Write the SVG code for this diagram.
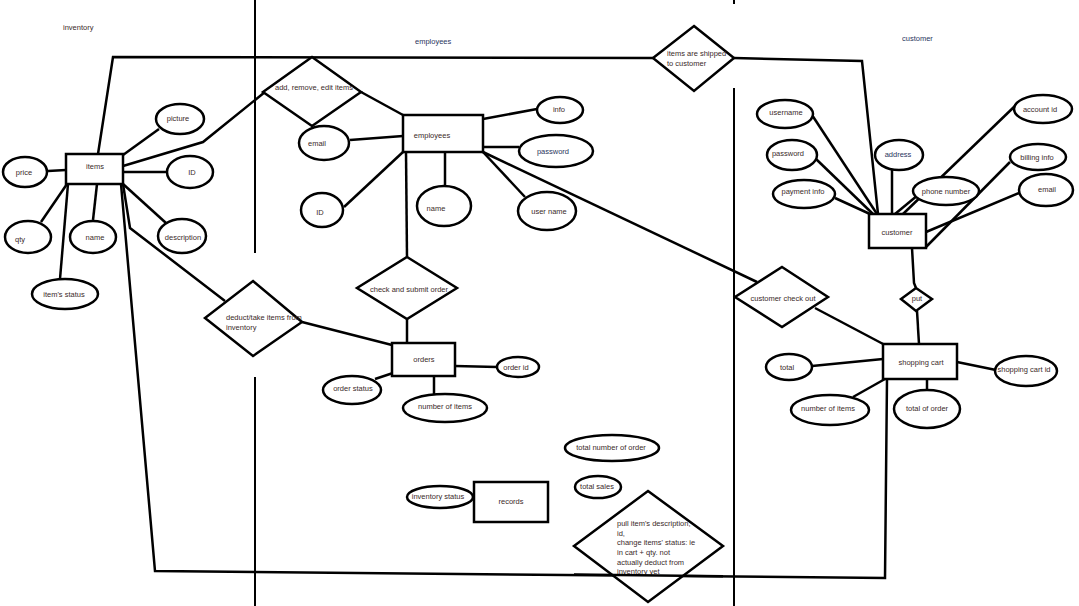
<svg xmlns="http://www.w3.org/2000/svg" width="1079" height="606" viewBox="0 0 1079 606">
<style>
.s{fill:#fff;stroke:#000;stroke-width:2.5}
.c{fill:none;stroke:#000;stroke-width:2.5;stroke-linejoin:miter}
.d{fill:none;stroke:#000;stroke-width:2}
text{font-family:"Liberation Sans",Arial,sans-serif;font-size:7.5px;fill:#3b2a2a;dominant-baseline:central}
.m{text-anchor:middle}
.b{fill:#2a3560}
</style>
<rect width="1079" height="606" fill="#fff"/>
<g id="dividers">
<path class="d" d="M255,0V253M255,377V606M734,0V4M734,88V606"/>
</g>
<g id="connectors">
<polyline class="c" points="98,154 113,57 653,58"/>
<polyline class="c" points="734,58 862,61 878,214"/>
<polyline class="c" points="121,184 155,571 885,578 887,379"/>
<polyline class="c" points="123,166 203,142 265,92"/>
<polyline class="c" points="123,184 130,228 225,301"/>
<line class="c" x1="302" y1="322" x2="392" y2="345"/>
<line class="c" x1="361" y1="92" x2="403" y2="115"/>
<line class="c" x1="406" y1="152" x2="407" y2="257"/>
<line class="c" x1="407" y1="319" x2="407" y2="343"/>
<line class="c" x1="483" y1="152" x2="757" y2="282"/>
<line class="c" x1="815" y1="308" x2="885" y2="345"/>
<polyline class="c" points="912,248 914,283 916,288"/>
<line class="c" x1="917" y1="311" x2="919" y2="344"/>
<!-- items attributes -->
<line class="c" x1="48" y1="171" x2="66" y2="170"/>
<line class="c" x1="123" y1="155" x2="159" y2="129"/>
<line class="c" x1="123" y1="172" x2="167" y2="172"/>
<line class="c" x1="41" y1="222" x2="67" y2="184"/>
<line class="c" x1="93" y1="220" x2="97" y2="184"/>
<line class="c" x1="123" y1="184" x2="166" y2="223"/>
<line class="c" x1="60" y1="279" x2="68" y2="184"/>
<!-- employees attributes -->
<line class="c" x1="350" y1="140" x2="403" y2="136"/>
<line class="c" x1="483" y1="119" x2="537" y2="109"/>
<line class="c" x1="483" y1="147" x2="519" y2="147"/>
<line class="c" x1="344" y1="207" x2="403" y2="152"/>
<line class="c" x1="445" y1="152" x2="445" y2="186"/>
<line class="c" x1="483" y1="152" x2="525" y2="197"/>
<!-- orders attributes -->
<line class="c" x1="455" y1="366" x2="497" y2="367"/>
<line class="c" x1="375" y1="379" x2="393" y2="373"/>
<line class="c" x1="434" y1="376" x2="434" y2="394"/>
<!-- customer attributes -->
<line class="c" x1="812" y1="115" x2="877" y2="214"/>
<line class="c" x1="816" y1="159" x2="873" y2="214"/>
<line class="c" x1="835" y1="198" x2="870" y2="214"/>
<line class="c" x1="892" y1="170" x2="892" y2="214"/>
<line class="c" x1="895" y1="214" x2="918" y2="195"/>
<line class="c" x1="903" y1="214" x2="1016" y2="105"/>
<line class="c" x1="1010" y1="162" x2="926" y2="247"/>
<line class="c" x1="1019" y1="193" x2="926" y2="232"/>
<!-- cart attributes -->
<line class="c" x1="812" y1="366" x2="883" y2="359"/>
<line class="c" x1="957" y1="362" x2="996" y2="370"/>
<line class="c" x1="853" y1="397" x2="885" y2="379"/>
<line class="c" x1="927" y1="379" x2="927" y2="390"/>
</g>
<g id="label-inventory"><text x="63" y="27">inventory</text></g>
<g id="label-employees"><text x="415" y="41" class="b">employees</text></g>
<g id="label-customer"><text x="902" y="38" class="b">customer</text></g>
<g id="items"><rect class="s" x="66" y="154" width="57" height="30"/><text class="m" x="95" y="166">items</text></g>
<g id="price"><ellipse class="s" cx="25" cy="172" rx="22" ry="15"/><text class="m" x="24" y="172">price</text></g>
<g id="picture"><ellipse class="s" cx="180" cy="119" rx="24" ry="15"/><text class="m" x="178" y="118">picture</text></g>
<g id="items-id"><ellipse class="s" cx="190" cy="172" rx="23" ry="16"/><text class="m" x="192" y="172">ID</text></g>
<g id="qty"><ellipse class="s" cx="28" cy="237" rx="23" ry="16"/><text class="m" x="20" y="239">qty</text></g>
<g id="items-name"><ellipse class="s" cx="93" cy="237" rx="23" ry="16"/><text class="m" x="95" y="237">name</text></g>
<g id="description"><ellipse class="s" cx="182" cy="236" rx="24" ry="17"/><text class="m" x="183" y="237">description</text></g>
<g id="item-status"><ellipse class="s" cx="65" cy="294" rx="33" ry="15"/><text class="m" x="64" y="294">item's status</text></g>
<g id="deduct"><polygon class="s" points="253,281 302,322 253,356 205,318"/><text x="226" y="317">deduct/take items from</text><text x="226" y="327">inventory</text></g>
<g id="add-remove"><polygon class="s" points="312,57 361,92 312,126 263,92"/><text x="275" y="87">add, remove, edit items</text></g>
<g id="employees"><rect class="s" x="403" y="115" width="80" height="37"/><text class="m" x="432" y="135">employees</text></g>
<g id="emp-email"><ellipse class="s" cx="324" cy="143" rx="25" ry="17"/><text class="m" x="317" y="143">email</text></g>
<g id="info"><ellipse class="s" cx="560" cy="110" rx="23" ry="13"/><text class="m" x="559" y="109">info</text></g>
<g id="emp-password"><ellipse class="s" cx="556" cy="151" rx="37" ry="16"/><text class="m b" x="553" y="151">password</text></g>
<g id="emp-id"><ellipse class="s" cx="322" cy="210" rx="21" ry="17"/><text class="m" x="320" y="212">ID</text></g>
<g id="emp-name"><ellipse class="s" cx="444" cy="206" rx="27" ry="20"/><text class="m" x="436" y="208">name</text></g>
<g id="user-name"><ellipse class="s" cx="547" cy="211" rx="29" ry="19"/><text class="m" x="549" y="211">user name</text></g>
<g id="check-submit"><polygon class="s" points="407,257 457,288 407,319 357,288"/><text class="m" x="409" y="289">check and submit order</text></g>
<g id="orders"><rect class="s" x="392" y="343" width="63" height="33"/><text class="m" x="424" y="359">orders</text></g>
<g id="order-id"><ellipse class="s" cx="518" cy="367" rx="21" ry="10"/><text class="m" x="516" y="367">order id</text></g>
<g id="order-status"><ellipse class="s" cx="352" cy="390" rx="29" ry="14"/><text class="m" x="353" y="388">order status</text></g>
<g id="order-number"><ellipse class="s" cx="445" cy="408" rx="42" ry="14"/><text class="m" x="445" y="406">number of items</text></g>
<g id="shipped"><polygon class="s" points="694,26 734,58 694,91 653,58"/><text x="667" y="53">items are shipped</text><text x="667" y="63">to customer</text></g>
<g id="customer"><rect class="s" x="869" y="214" width="57" height="34"/><text class="m" x="897" y="232">customer</text></g>
<g id="username"><ellipse class="s" cx="785" cy="114" rx="28" ry="14"/><text class="m" x="786" y="112">username</text></g>
<g id="cust-password"><ellipse class="s" cx="792" cy="155" rx="25" ry="15"/><text class="m" x="788" y="153">password</text></g>
<g id="payment-info"><ellipse class="s" cx="804" cy="194" rx="31" ry="14"/><text class="m" x="803" y="191">payment info</text></g>
<g id="address"><ellipse class="s" cx="899" cy="155" rx="24" ry="15"/><text class="m b" x="898" y="154">address</text></g>
<g id="phone"><ellipse class="s" cx="946" cy="191" rx="33" ry="14"/><text class="m" x="946" y="191">phone number</text></g>
<g id="account-id"><ellipse class="s" cx="1043" cy="109" rx="29" ry="14"/><text class="m" x="1040" y="109">account id</text></g>
<g id="billing"><ellipse class="s" cx="1038" cy="157" rx="28" ry="13"/><text class="m" x="1037" y="157">billing info</text></g>
<g id="cust-email"><ellipse class="s" cx="1046" cy="190" rx="27" ry="16"/><text class="m" x="1047" y="189">email</text></g>
<g id="checkout"><polygon class="s" points="782,267 828,297 782,327 735,297"/><text class="m" x="783" y="298">customer check out</text></g>
<g id="put"><polygon class="s" points="916,288 932,299 916,311 901,299"/><text class="m" x="917" y="298">put</text></g>
<g id="cart"><rect class="s" x="883" y="344" width="74" height="35"/><text class="m" x="921" y="362">shopping cart</text></g>
<g id="total"><ellipse class="s" cx="789" cy="367" rx="23" ry="13"/><text class="m" x="787" y="367">total</text></g>
<g id="cart-id"><ellipse class="s" cx="1026" cy="371" rx="31" ry="15"/><text class="m" x="1024" y="369">shopping cart id</text></g>
<g id="cart-number"><ellipse class="s" cx="830" cy="410" rx="39" ry="15"/><text class="m" x="828" y="408">number of items</text></g>
<g id="total-order"><ellipse class="s" cx="927" cy="409" rx="33" ry="19"/><text class="m" x="927" y="408">total of order</text></g>
<g id="total-number-order"><ellipse class="s" cx="612" cy="448" rx="47" ry="13"/><text class="m" x="611" y="447">total number of order</text></g>
<g id="total-sales"><ellipse class="s" cx="598" cy="487" rx="23" ry="11"/><text class="m" x="597" y="486">total sales</text></g>
<g id="records"><rect class="s" x="474" y="482" width="74" height="40"/><text class="m" x="511" y="501">records</text></g>
<g id="inventory-status"><ellipse class="s" cx="440" cy="497" rx="33" ry="11"/><text class="m" x="438" y="496">inventory status</text></g>
<g id="pull"><polygon class="s" points="648,491 723,546 648,602 574,546"/>
<text x="617" y="523">pull item's description,</text>
<text x="617" y="533">id,</text>
<text x="617" y="542">change items' status: ie</text>
<text x="617" y="552">in cart + qty. not</text>
<text x="617" y="562">actually deduct from</text>
<text x="617" y="571">inventory yet</text></g>
<polyline class="c" points="574,574.6 723,576.2"/>
</svg>
